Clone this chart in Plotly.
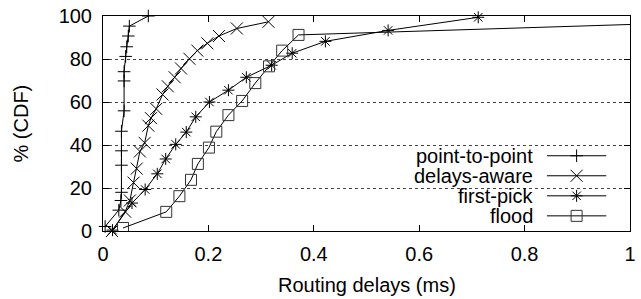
import plotly.graph_objects as go

# ---- data ----
p2p_x = [0.004, 0.030, 0.034, 0.035, 0.035, 0.035, 0.035, 0.040, 0.040, 0.040, 0.043, 0.045, 0.048, 0.050, 0.086]
p2p_y = [2.1, 9.7, 14.2, 18.0, 30.6, 37.3, 46.4, 55.9, 69.8, 74.1, 81.2, 85.7, 90.7, 95.3, 100.0]

aware_x = [0.017, 0.042, 0.051, 0.058, 0.064, 0.070, 0.079, 0.086, 0.091, 0.101, 0.113, 0.123, 0.136, 0.148, 0.164, 0.179, 0.198, 0.220, 0.254, 0.314]
aware_y = [0.0, 9.0, 14.2, 22.5, 29.0, 37.0, 41.0, 49.0, 52.5, 56.8, 63.5, 67.3, 71.5, 75.6, 80.1, 83.9, 87.3, 90.7, 94.2, 97.3]

first_x = [0.018, 0.055, 0.080, 0.103, 0.119, 0.138, 0.158, 0.176, 0.202, 0.238, 0.272, 0.320, 0.359, 0.422, 0.541, 0.712]
first_y = [0.4, 13.0, 19.3, 26.6, 33.5, 40.3, 46.0, 53.1, 60.0, 65.5, 71.5, 77.1, 82.7, 88.2, 93.3, 99.4]

flood_x = [0.038, 0.120, 0.145, 0.167, 0.180, 0.201, 0.215, 0.238, 0.264, 0.289, 0.315, 0.340, 0.371, 1.51]
flood_y = [1.4, 8.9, 16.2, 23.8, 31.2, 38.8, 46.2, 53.9, 60.5, 68.8, 76.6, 83.9, 91.2, 100.0]

series_names = ["point-to-point", "delays-aware", "first-pick", "flood"]
x_ticks = [0, 0.2, 0.4, 0.6, 0.8, 1]
x_tick_labels = ["0", "0.2", "0.4", "0.6", "0.8", "1"]
y_ticks = [0, 20, 40, 60, 80, 100]

# ---- styles ----
FONT = "Liberation Sans, Arial, Helvetica, sans-serif"
FS = 20
symbols = ["cross-thin-open", "x-thin-open", "asterisk-open", "square-open"]
msizes = [9, 12, 10, 11]
mcolors = ["#000", "#000", "#000", "#333"]

W, H = 641, 299
L, R, T, B = 103, 5, 11, 68
pw, ph = W - L - R, H - T - B

def px2paper_x(px):
    return (px - L) / pw

def px2paper_y(py):
    return (H - B - py) / ph

fig = go.Figure()
data = [(p2p_x, p2p_y), (aware_x, aware_y), (first_x, first_y), (flood_x, flood_y)]
for i, (xs, ys) in enumerate(data):
    fig.add_trace(go.Scatter(
        x=xs, y=ys, mode="lines+markers", name=series_names[i], showlegend=False,
        line=dict(color="#000", width=1),
        marker=dict(symbol=symbols[i], size=msizes[i], color=mcolors[i],
                    line=dict(color=mcolors[i], width=1)),
        cliponaxis=(i == 3),
    ))

# ---- gnuplot-style key (text on the left, sample on the right) ----
key_rows_px = [154, 174.5, 195, 215.5]
key_text_right_px = 540
key_line_px = (552, 612)
for i, name in enumerate(series_names):
    yy = px2paper_y(key_rows_px[i])
    fig.add_trace(go.Scatter(
        x=[px2paper_x(key_line_px[0]), px2paper_x(key_line_px[1])], y=[yy, yy],
        mode="lines", line=dict(color="#000", width=1), xaxis="x2", yaxis="y2",
        showlegend=False, hoverinfo="skip"))
    fig.add_trace(go.Scatter(
        x=[px2paper_x(sum(key_line_px) / 2)], y=[yy], mode="markers",
        marker=dict(symbol=symbols[i], size=msizes[i], color=mcolors[i],
                    line=dict(color=mcolors[i], width=1)),
        xaxis="x2", yaxis="y2", showlegend=False, hoverinfo="skip"))
    fig.add_annotation(text=name, xref="paper", yref="paper",
                       x=px2paper_x(key_text_right_px), y=yy, xanchor="right", yanchor="middle",
                       showarrow=False, font=dict(family=FONT, size=FS, color="#000"))

# white key background hiding grid lines
fig.add_shape(type="rect", xref="paper", yref="paper",
              x0=px2paper_x(367), x1=px2paper_x(625), y0=px2paper_y(229), y1=px2paper_y(146),
              fillcolor="white", line=dict(width=0), layer="between")

# axis titles
fig.add_annotation(text="Routing delays (ms)", xref="paper", yref="paper", x=0.5, y=0,
                   xanchor="center", yanchor="middle", yshift=-54, showarrow=False,
                   font=dict(family=FONT, size=FS, color="#000"))
fig.add_annotation(text="% (CDF)", xref="paper", yref="paper", x=0, y=0.5,
                   xanchor="center", yanchor="middle", xshift=-83, textangle=-90, showarrow=False,
                   font=dict(family=FONT, size=FS, color="#000"))

axis_common = dict(showline=True, linecolor="#000", linewidth=1, mirror="ticks",
                   ticks="inside", ticklen=6, tickwidth=1, tickcolor="#000",
                   zeroline=False, tickfont=dict(family=FONT, size=FS, color="#000"))

fig.update_layout(
    width=W, height=H, margin=dict(l=L, r=R, t=T, b=B),
    paper_bgcolor="white", plot_bgcolor="white",
    font=dict(family=FONT, size=FS, color="#000"),
    xaxis=dict(range=[0, 1], tickvals=x_ticks, ticktext=x_tick_labels,
               showgrid=False, ticklabelstandoff=5, **axis_common),
    yaxis=dict(range=[0, 100], tickvals=y_ticks, showgrid=True, gridcolor="#444",
               griddash="dot", gridwidth=1, ticklabelstandoff=6, **axis_common),
    xaxis2=dict(range=[0, 1], overlaying="x", visible=False, fixedrange=True),
    yaxis2=dict(range=[0, 1], overlaying="y", visible=False, fixedrange=True),
    showlegend=False,
)

fig.write_html("out.html", config={"displayModeBar": False},
               post_script="document.body.style.margin='0';document.body.style.overflow='hidden';")
